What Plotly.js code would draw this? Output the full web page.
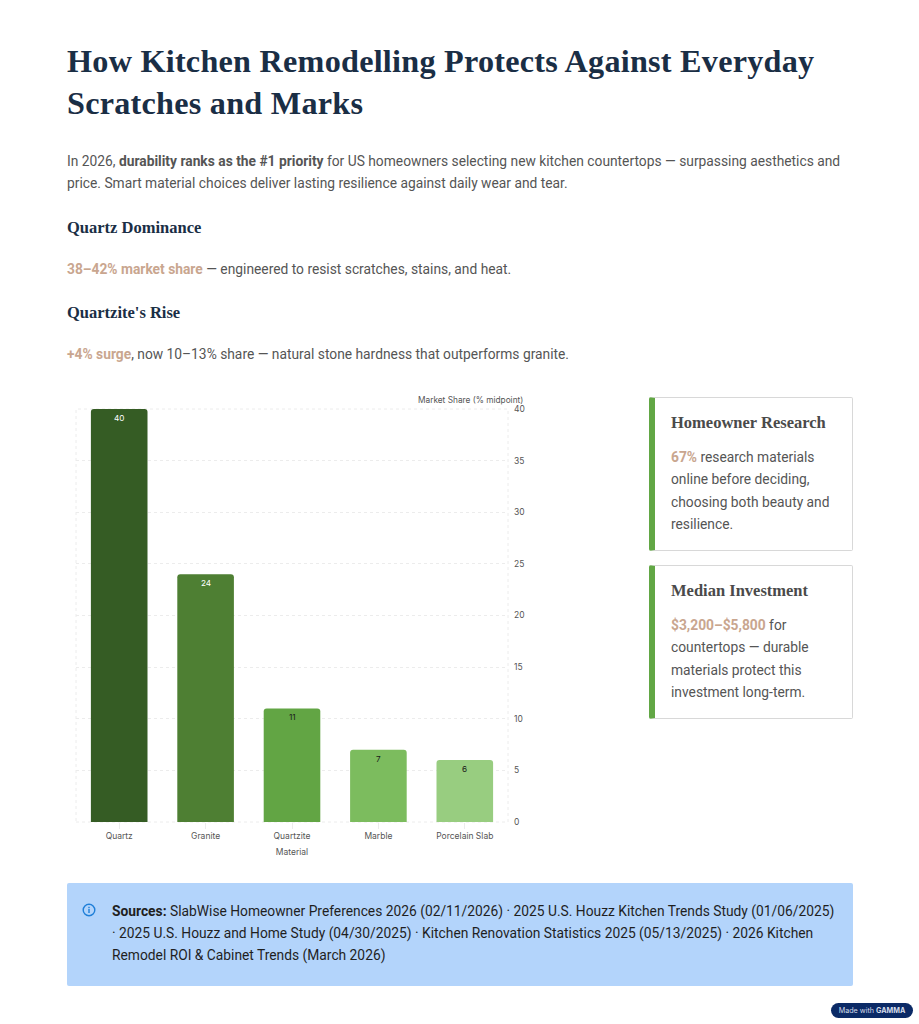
<!DOCTYPE html>
<html><head><meta charset="utf-8">
<script src="https://cdn.plot.ly/plotly-3.0.0.min.js"></script>
<style>
html,body{margin:0;padding:0;background:#fff;}
body{width:919px;height:1024px;position:relative;overflow:hidden;font-family:Roboto,sans-serif;color:#555;}
.a{position:absolute;white-space:nowrap;}
h1,h3,h4{margin:0;font-family:"Liberation Serif",serif;font-weight:700;}
h1{font-size:32.2px;line-height:42px;color:#1a2e45;left:67px;top:40px;letter-spacing:.25px;}
h3{font-size:16.5px;line-height:22px;color:#1a2e45;left:67px;}
.p{font-size:13.8px;line-height:22px;left:67px;color:#555;}
.p b{font-weight:700;}
.acc{color:#c9a68f;font-weight:700;}
.card{position:absolute;left:649px;width:204px;box-sizing:border-box;background:#fff;border:1.5px solid #d8d8d8;border-left:6px solid #62a745;border-radius:2px;}
.card h4{position:absolute;left:16px;top:14px;font-size:16.5px;line-height:22px;color:#4a4a4a;white-space:nowrap;}
.card div{position:absolute;left:16px;top:48px;font-size:13.8px;line-height:22.3px;color:#555;white-space:nowrap;}
#src{position:absolute;left:67px;top:883px;width:786px;height:103px;background:#b3d4fb;border-radius:2px;}
#src div{position:absolute;left:45px;top:16.6px;font-size:13.8px;line-height:22px;color:#1f1f1f;white-space:nowrap;}
#src svg{position:absolute;left:15px;top:20px;}
#badge{position:absolute;left:831px;top:1003px;width:82px;height:15px;border-radius:8px;background:#0b2a66;color:#d5dcea;font-size:7.2px;line-height:15px;text-align:center;font-family:Inter,sans-serif;}
#chart{position:absolute;left:40px;top:385px;width:520px;height:485px;}
</style></head><body>
<h1 class="a">How Kitchen Remodelling Protects Against Everyday<br>Scratches and Marks</h1>
<div class="a p" style="top:150px">In 2026, <b>durability ranks as the #1 priority</b> for US homeowners selecting new kitchen countertops — surpassing aesthetics and<br>price. Smart material choices deliver lasting resilience against daily wear and tear.</div>
<h3 class="a" style="top:217px">Quartz Dominance</h3>
<div class="a p" style="top:258px"><span class="acc">38–42% market share</span> — engineered to resist scratches, stains, and heat.</div>
<h3 class="a" style="top:302px">Quartzite's Rise</h3>
<div class="a p" style="top:343px"><span class="acc">+4% surge</span>, now 10–13% share — natural stone hardness that outperforms granite.</div>
<div id="chart"></div>
<div class="card" style="top:397px;height:154px"><h4>Homeowner Research</h4><div><span class="acc">67%</span> research materials<br>online before deciding,<br>choosing both beauty and<br>resilience.</div></div>
<div class="card" style="top:565px;height:154px"><h4>Median Investment</h4><div><span class="acc">$3,200–$5,800</span> for<br>countertops — durable<br>materials protect this<br>investment long-term.</div></div>
<div id="src"><svg width="14" height="14" viewBox="0 0 14 14"><circle cx="7" cy="7" r="5.8" fill="none" stroke="#1f7fd8" stroke-width="1.4"/><rect x="6.3" y="6" width="1.4" height="4" fill="#1f7fd8"/><rect x="6.3" y="3.8" width="1.4" height="1.4" fill="#1f7fd8"/></svg><div><b>Sources:</b> SlabWise Homeowner Preferences 2026 (02/11/2026) · 2025 U.S. Houzz Kitchen Trends Study (01/06/2025)<br>· 2025 U.S. Houzz and Home Study (04/30/2025) · Kitchen Renovation Statistics 2025 (05/13/2025) · 2026 Kitchen<br>Remodel ROI &amp; Cabinet Trends (March 2026)</div></div>
<div id="badge">Made with <b>GAMMA</b></div>
<script>
const materials = ["Quartz", "Granite", "Quartzite", "Marble", "Porcelain Slab"];
const marketShare = [40, 24, 11, 7, 6];
const barColors = ["#355c24", "#4e7f33", "#62a544", "#7cbc5e", "#98cd80"];
const labelColors = ["#ffffff", "#ffffff", "#1a1a1a", "#1a1a1a", "#1a1a1a"];
const yTicks = [0, 5, 10, 15, 20, 25, 30, 35, 40];
const fontFam = "Inter, sans-serif";
const barLabels = materials.map((m, i) => ({
  text: String(marketShare[i]), x: m, y: marketShare[i], xref: "x", yref: "y",
  yanchor: "middle", xanchor: "center", yshift: -9, showarrow: false,
  font: {size: 8.2, color: labelColors[i], family: fontFam}
}));
Plotly.newPlot("chart", [{
  type: "bar", x: materials, y: marketShare,
  marker: {color: barColors, cornerradius: 3},
  hoverinfo: "skip"
}], {
  width: 520, height: 485, paper_bgcolor: "rgba(0,0,0,0)", plot_bgcolor: "rgba(0,0,0,0)",
  margin: {l: 36, r: 52, t: 24, b: 48},
  bargap: 0.345, showlegend: false, font: {family: fontFam, size: 9, color: "#555"},
  xaxis: {type: "category", showgrid: false, zeroline: false, showline: false,
    ticks: "outside", ticklen: 6, tickcolor: "#ececec", tickfont: {size: 8.5, color: "#555", family: fontFam},
    title: {text: "Material", standoff: 8, font: {size: 8.5, color: "#555", family: fontFam}}},
  yaxis: {side: "right", range: [0, 40], tickvals: yTicks, zeroline: false, showline: false,
    griddash: "dot", gridcolor: "#ececec", gridwidth: 1, ticks: "", ticklabelstandoff: 5,
    tickfont: {size: 8.5, color: "#555", family: fontFam}},
  shapes: [{type: "rect", xref: "paper", yref: "paper", x0: 0, x1: 1, y0: 0, y1: 1, layer: "below",
    line: {color: "#ececec", width: 1, dash: "dot"}}],
  annotations: barLabels.concat([{text: "Market Share (% midpoint)", xref: "paper", yref: "paper", x: 1, y: 1,
    xanchor: "right", yanchor: "bottom", xshift: 17, yshift: 2, showarrow: false,
    font: {size: 8.3, color: "#555", family: fontFam}}])
}, {displayModeBar: false, staticPlot: true});
</script>
</body></html>
